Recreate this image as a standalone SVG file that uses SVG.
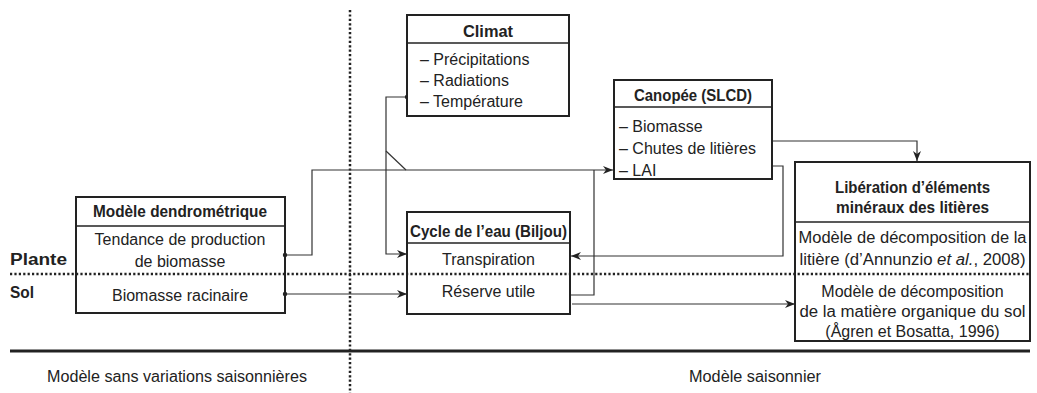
<svg xmlns="http://www.w3.org/2000/svg" width="1037" height="393" viewBox="0 0 1037 393">
<style>
text{font-family:"Liberation Sans",Arial,sans-serif;font-size:16px;fill:#222}
.b{font-weight:bold}
.c{text-anchor:middle}
.box{fill:#fff;stroke:#222;stroke-width:2}
.sep{stroke:#222;stroke-width:1.5}
.con{fill:none;stroke:#333;stroke-width:1.2}
.dot{fill:#222}
.dotted{stroke:#222;stroke-width:2.5;stroke-dasharray:2.2 2.2}
</style>
<defs>
<marker id="ah" viewBox="0 0 10 8" refX="10" refY="4" markerWidth="10" markerHeight="8" markerUnits="userSpaceOnUse" orient="auto">
<path d="M0,0 L10,4 L0,8 L3,4 Z" fill="#222"/>
</marker>
</defs>
<rect width="1037" height="393" fill="#fff"/>

<g id="guides">
<line class="dotted" x1="10" y1="274" x2="1030" y2="274"/>
<line class="dotted" x1="350" y1="10" x2="350" y2="393"/>
<line x1="10" y1="351" x2="1030" y2="351" stroke="#222" stroke-width="3"/>
<text class="b" x="10" y="265" font-size="17" textLength="57" lengthAdjust="spacingAndGlyphs">Plante</text>
<text class="b" x="10" y="298" font-size="17" textLength="24" lengthAdjust="spacingAndGlyphs">Sol</text>
<text class="c" x="177" y="382" textLength="260" lengthAdjust="spacingAndGlyphs">Modèle sans variations saisonnières</text>
<text class="c" x="755" y="382" textLength="132" lengthAdjust="spacingAndGlyphs">Modèle saisonnier</text>
</g>

<g id="connectors">
<polyline class="con" points="285,255 312,255 312,170 613,170" marker-end="url(#ah)"/>
<line class="con" x1="285" y1="294" x2="407" y2="294" marker-end="url(#ah)"/>
<polyline class="con" points="407,97 386,97 386,254 407,254" marker-end="url(#ah)"/>
<line class="con" x1="386" y1="151" x2="406" y2="170"/>
<polyline class="con" points="570,295 594,295 594,170"/>
<line class="con" x1="572" y1="304" x2="795" y2="304" marker-end="url(#ah)"/>
<polyline class="con" points="762,166 783,166 783,256 571,256" marker-end="url(#ah)"/>
<polyline class="con" points="762,141 917,141 917,161" marker-end="url(#ah)"/>
<circle class="dot" cx="285" cy="255" r="2.2"/>
<circle class="dot" cx="285" cy="294" r="2.2"/>
<circle class="dot" cx="407" cy="97" r="2.2"/>
<circle class="dot" cx="762" cy="166" r="2.2"/>
<circle class="dot" cx="762" cy="141" r="2.2"/>
</g>

<g id="dendro">
<rect class="box" x="76" y="197" width="209" height="116" fill-opacity="0"/>
<line class="sep" x1="76" y1="226" x2="285" y2="226"/>
<text class="b c" x="180" y="217" textLength="174" lengthAdjust="spacingAndGlyphs">Modèle dendrométrique</text>
<text class="c" x="180" y="245">Tendance de production</text>
<text class="c" x="180" y="267">de biomasse</text>
<text class="c" x="180" y="301">Biomasse racinaire</text>
</g>

<g id="climat">
<rect class="box" x="407" y="15" width="162" height="101"/>
<line class="sep" x1="407" y1="43" x2="569" y2="43"/>
<text class="b c" x="488" y="37" textLength="50" lengthAdjust="spacingAndGlyphs">Climat</text>
<text x="420" y="65">– Précipitations</text>
<text x="420" y="86">– Radiations</text>
<text x="420" y="107">– Température</text>
</g>

<g id="canopee">
<rect class="box" x="614" y="80" width="158" height="99"/>
<line class="sep" x1="614" y1="107" x2="772" y2="107"/>
<text class="b c" x="693" y="101" textLength="118" lengthAdjust="spacingAndGlyphs">Canopée (SLCD)</text>
<text x="619" y="132">– Biomasse</text>
<text x="619" y="154">– Chutes de litières</text>
<text x="619" y="176">– LAI</text>
</g>

<g id="cycle">
<rect class="box" x="407" y="212" width="163" height="102" fill-opacity="0"/>
<line class="sep" x1="407" y1="243" x2="570" y2="243"/>
<text class="b c" x="488.5" y="237" textLength="157" lengthAdjust="spacingAndGlyphs">Cycle de l’eau (Biljou)</text>
<text class="c" x="488.5" y="265">Transpiration</text>
<text class="c" x="488.5" y="297">Réserve utile</text>
</g>

<g id="liberation">
<rect class="box" x="795" y="162" width="235" height="179" fill-opacity="0"/>
<line class="sep" x1="795" y1="222" x2="1030" y2="222"/>
<text class="b c" x="912.5" y="193" textLength="155" lengthAdjust="spacingAndGlyphs">Libération d’éléments</text>
<text class="b c" x="912.5" y="213" textLength="153" lengthAdjust="spacingAndGlyphs">minéraux des litières</text>
<text class="c" x="912.5" y="243" textLength="228" lengthAdjust="spacingAndGlyphs">Modèle de décomposition de la</text>
<text class="c" x="912.5" y="265" textLength="226" lengthAdjust="spacingAndGlyphs">litière (d’Annunzio <tspan font-style="italic">et al.</tspan>, 2008)</text>
<text class="c" x="912.5" y="297">Modèle de décomposition</text>
<text class="c" x="912.5" y="317" textLength="226" lengthAdjust="spacingAndGlyphs">de la matière organique du sol</text>
<text class="c" x="912.5" y="337">(Ågren et Bosatta, 1996)</text>
</g>
</svg>
